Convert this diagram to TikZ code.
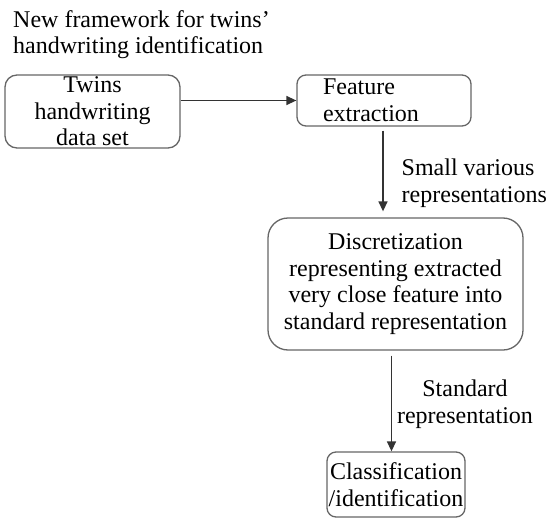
\documentclass[tikz,border=0pt]{standalone}
\usepackage{fontspec}
\setmainfont{Liberation Serif}
\usetikzlibrary{arrows.meta}
\usepackage{xcolor}

\begin{document}
\begin{tikzpicture}[x=1pt,y=-1pt,
    every node/.style={font=\rmfamily\fontsize{24}{26.5}\selectfont},
    box/.style={draw=black!60,line width=1.3pt,fill=white,inner sep=0pt},
    flow/.style={-{Triangle[length=10pt,width=9pt]},line width=1.4pt,draw=black!80}]
        \useasboundingbox (0,0) rectangle (551,519);
        \node[anchor=north west,align=left,inner sep=0pt] (title) at (13,10) {New framework for twins’\\handwriting identification};
        \node[box,rounded corners=12pt,minimum width=175pt,minimum height=73pt,align=center] (data) at (92.5,111.5) {Twins\\handwriting\\data set};
        \node[box,rounded corners=9pt,minimum width=174pt,minimum height=51pt,text width=122pt,inner xsep=26pt,align=left] (feature) at (384,100.5) {Feature\\extraction};
        \node[box,rounded corners=20pt,minimum width=255pt,minimum height=132pt,align=center] (discret) at (395.5,284) {Discretization\\representing extracted\\very close feature into\\standard representation};
        \node[box,rounded corners=9pt,minimum width=138pt,minimum height=65pt,align=center] (classif) at (396,484.5) {Classification\\/identification};
        \draw[flow] (data.east |- feature.west) -- (feature.west);
        \draw[flow,shorten <=4pt,shorten >=6pt] ([xshift=-1pt]feature.south) -- ([xshift=-1pt]feature.south |- discret.north) node[pos=0.35,right=18pt,anchor=north west,align=left,inner sep=0pt] (small) {Small various\\representations};
        \draw[flow,shorten <=5pt] ([xshift=-4pt]discret.south) -- ([xshift=-4pt]discret.south |- classif.north);
        \node[anchor=north,align=center,inner sep=0pt] (standard) at (465,380) {Standard\\representation};
      \end{tikzpicture}
\end{document}
